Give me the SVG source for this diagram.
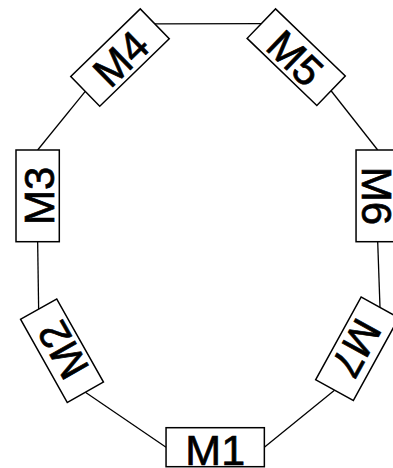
<svg xmlns="http://www.w3.org/2000/svg" width="393" height="468" viewBox="0 0 393 468">
<style>
.box{fill:#fff;stroke:#000;stroke-width:1.5}
.lbl{font-family:"Liberation Sans",Arial,sans-serif;font-size:42px;text-anchor:middle;fill:#000;stroke:#000;stroke-width:0.7}
.conn line{stroke:#000;stroke-width:1.3;fill:none}
</style>
<rect width="393" height="468" fill="#fff"/>
<g id="connectors" class="conn">
<line x1="166.05" y1="447.2" x2="85.36" y2="392.23"/>
<line x1="38.64" y1="309.17" x2="37.65" y2="241.7"/>
<line x1="37.65" y1="150" x2="85.25" y2="91.36"/>
<line x1="154.75" y1="23.8" x2="261.33" y2="23.7"/>
<line x1="331.07" y1="90.77" x2="377.7" y2="150"/>
<line x1="377.7" y1="241.7" x2="380" y2="307.44"/>
<line x1="334.5" y1="390.16" x2="264.35" y2="447.2"/>
</g>
<g id="M1" transform="translate(215.2 447.2)">
<rect class="box" x="-49.15" y="-19.5" width="98.3" height="39"/>
<text class="lbl" x="0" y="17.5" style="font-size:43px">M1</text>
</g>
<g id="M2" transform="translate(62 350.7) rotate(-119.35)">
<rect class="box" x="-47.65" y="-20.75" width="95.3" height="41.5"/>
<text class="lbl" x="0" y="16">M2</text>
</g>
<g id="M3" transform="translate(37.65 195.85) rotate(-90)">
<rect class="box" x="-45.85" y="-21.65" width="91.7" height="43.3"/>
<text class="lbl" x="0" y="16">M3</text>
</g>
<g id="M4" transform="translate(120 57.6) rotate(-44.17)">
<rect class="box" x="-48.45" y="-20.8" width="96.9" height="41.6"/>
<text class="lbl" x="0" y="16">M4</text>
</g>
<g id="M5" transform="translate(296.2 57.2) rotate(43.93)">
<rect class="box" x="-48.4" y="-20.5" width="96.8" height="41"/>
<text class="lbl" x="0" y="16">M5</text>
</g>
<g id="M6" transform="translate(377.7 195.85) rotate(90)">
<rect class="box" x="-45.85" y="-21.65" width="91.7" height="43.3"/>
<text class="lbl" x="0" y="16">M6</text>
</g>
<g id="M7" transform="translate(357.25 348.8) rotate(118.8)">
<rect class="box" x="-47.2" y="-21.5" width="94.4" height="43"/>
<text class="lbl" x="0" y="16">M7</text>
</g>
</svg>
